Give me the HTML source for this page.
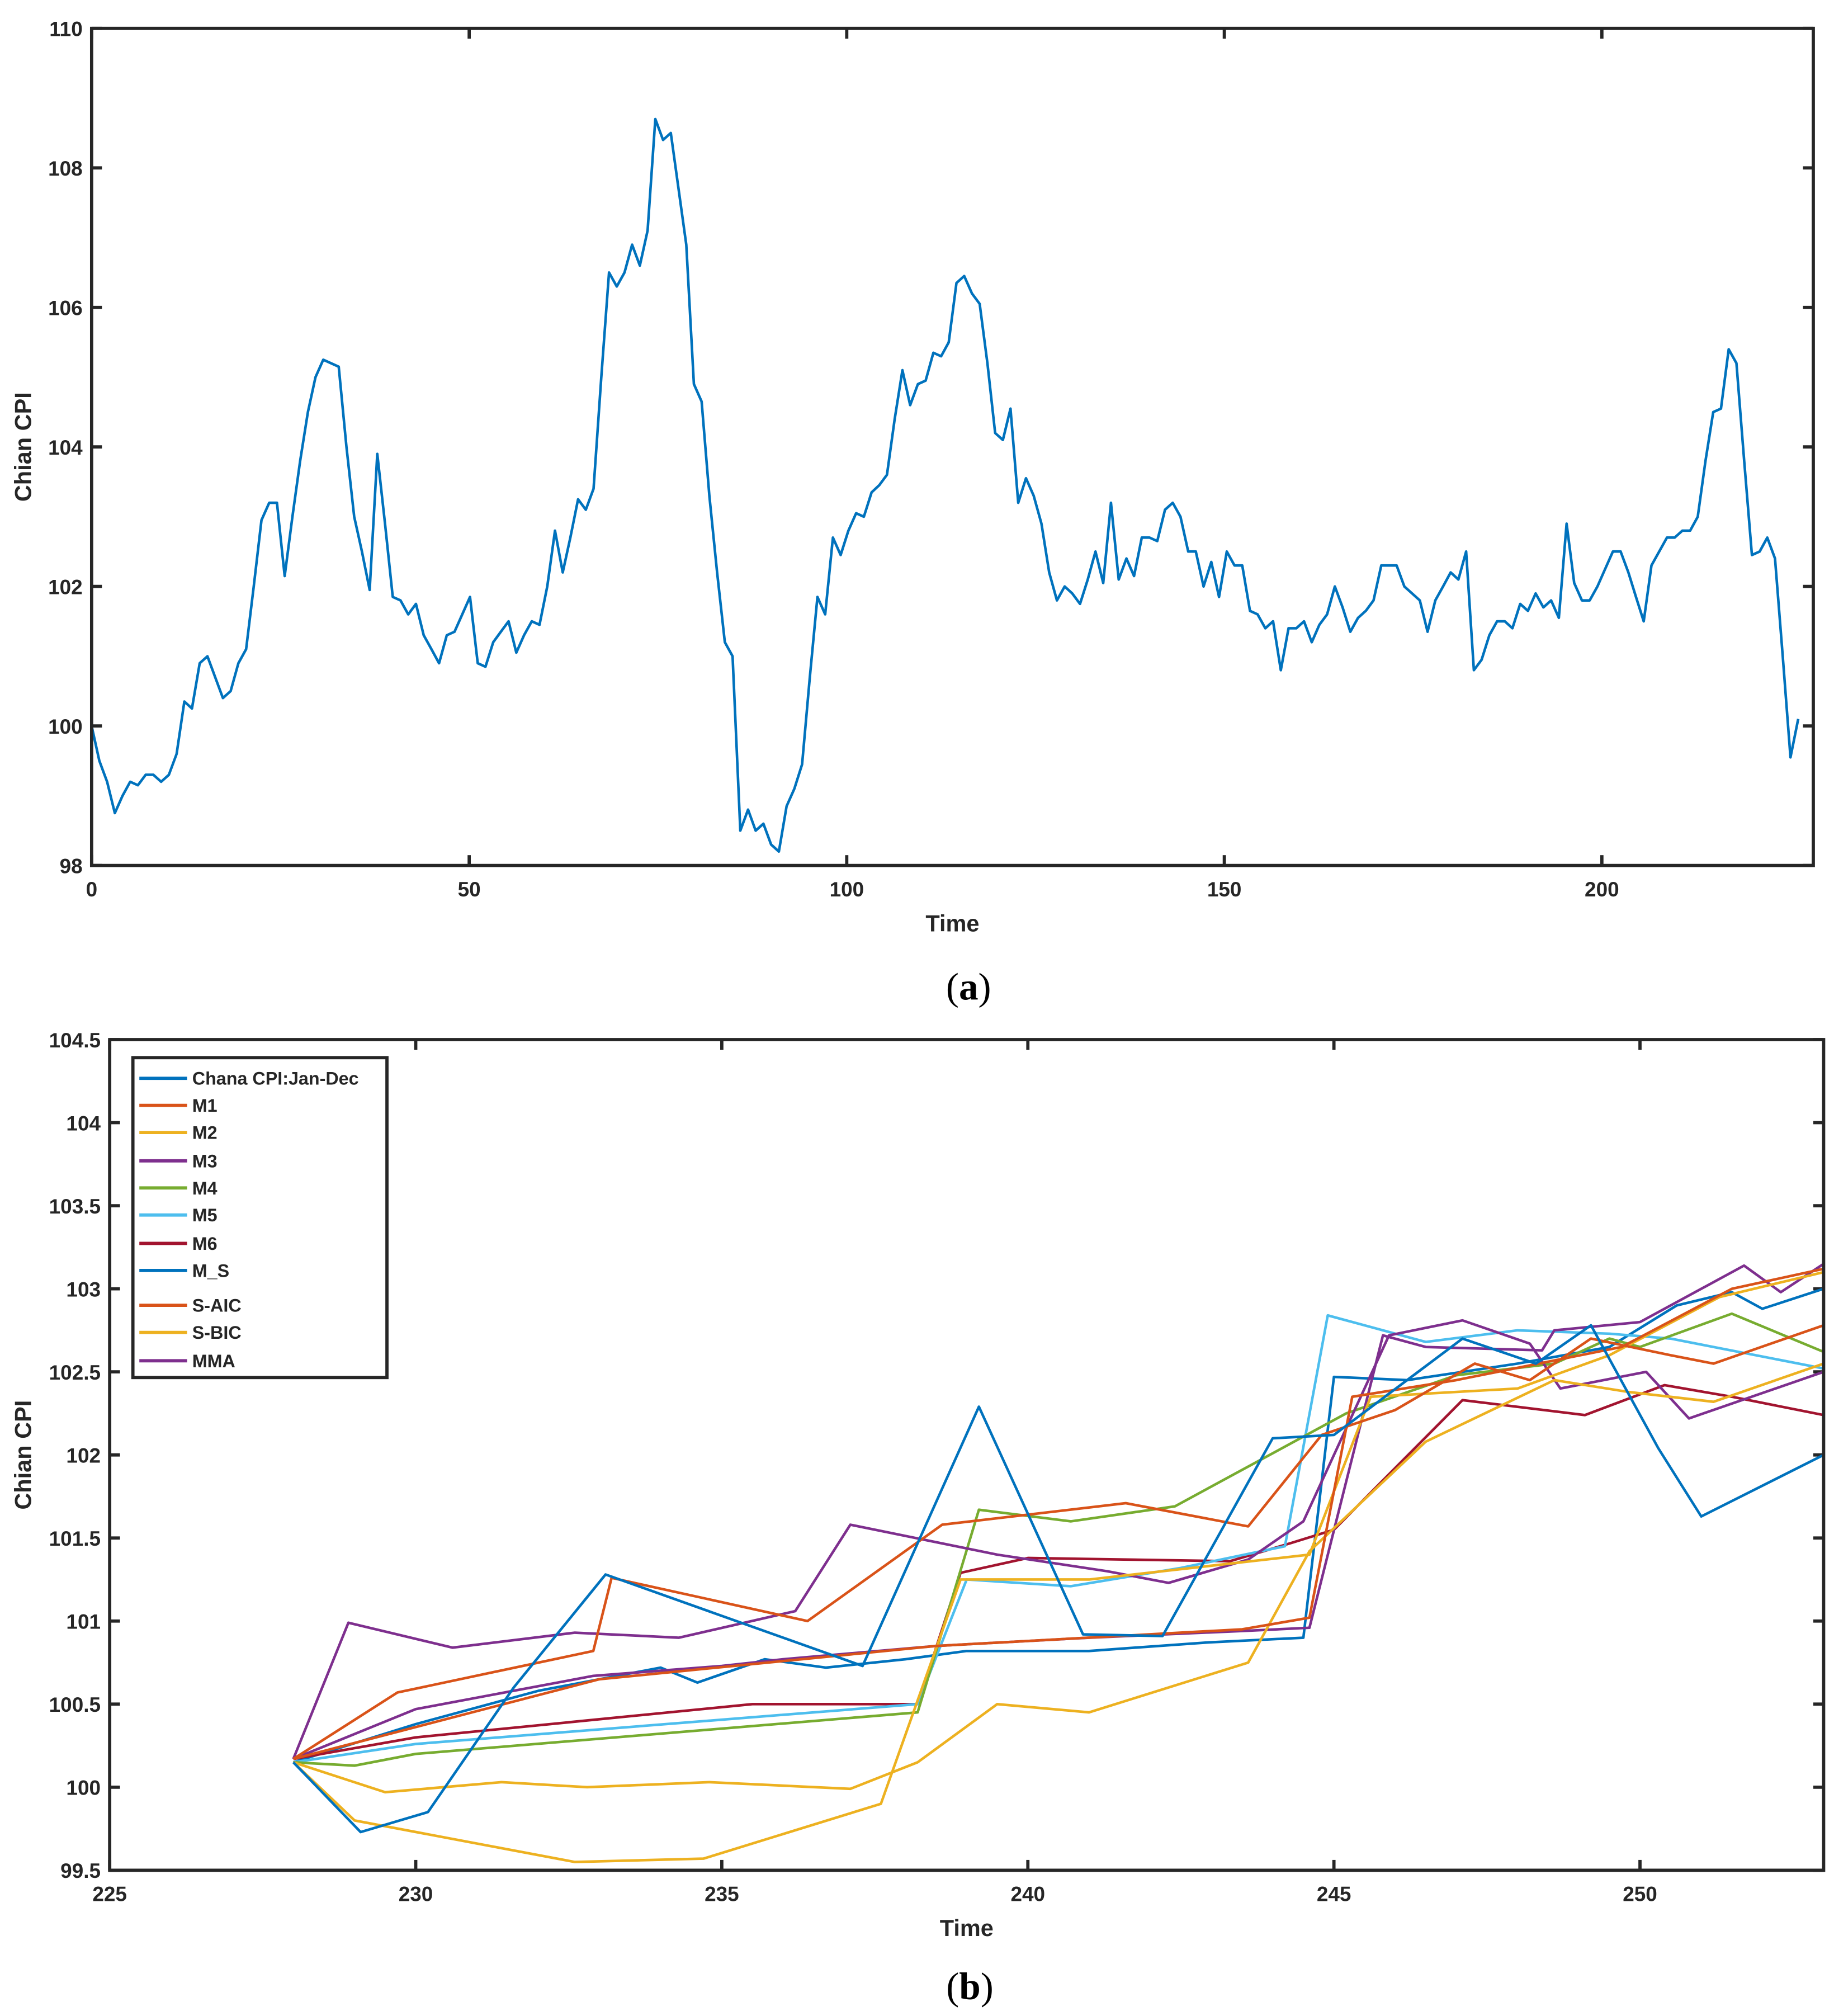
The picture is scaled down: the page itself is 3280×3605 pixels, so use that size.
<!DOCTYPE html>
<html><head><meta charset="utf-8"><style>
html,body{margin:0;padding:0;background:#fff}
svg{display:block}
text{font-family:"Liberation Sans",Arial,sans-serif;fill:#262626}
</style></head><body>
<svg id="fig" width="3280" height="3605" viewBox="0 0 1422 1563" xmlns="http://www.w3.org/2000/svg">
<g id="pa"></g>
<g id="pb"></g>
<text x="751" y="775" text-anchor="middle" style="font-family:'Liberation Serif',serif;font-size:30px;fill:#000">(<tspan font-weight="bold">a</tspan>)</text>
<text x="752" y="1550" text-anchor="middle" style="font-family:'Liberation Serif',serif;font-size:30px;fill:#000">(<tspan font-weight="bold">b</tspan>)</text>
</svg>
<script>
const cpiA=[100,99.5,99.2,98.75,99,99.2,99.15,99.3,99.3,99.2,99.3,99.6,100.35,100.25,100.9,101,100.7,100.4,100.5,100.9,101.1,102,102.95,103.2,103.2,102.15,103,103.8,104.5,105,105.25,105.2,105.15,104,103,102.5,101.95,103.9,102.9,101.85,101.8,101.6,101.75,101.3,101.1,100.9,101.3,101.35,101.6,101.85,100.9,100.85,101.2,101.35,101.5,101.05,101.3,101.5,101.45,102,102.8,102.2,102.7,103.25,103.1,103.4,105,106.5,106.3,106.5,106.9,106.6,107.1,108.7,108.4,108.5,107.7,106.9,104.9,104.65,103.3,102.2,101.2,101,98.5,98.8,98.5,98.6,98.3,98.2,98.85,99.1,99.45,100.7,101.85,101.6,102.7,102.45,102.8,103.05,103,103.35,103.45,103.6,104.4,105.1,104.6,104.9,104.95,105.35,105.3,105.5,106.35,106.45,106.2,106.05,105.2,104.2,104.1,104.55,103.2,103.55,103.3,102.9,102.2,101.8,102,101.9,101.75,102.1,102.5,102.05,103.2,102.1,102.4,102.15,102.7,102.7,102.65,103.1,103.2,103,102.5,102.5,102,102.35,101.85,102.5,102.3,102.3,101.65,101.6,101.4,101.5,100.8,101.4,101.4,101.5,101.2,101.45,101.6,102,101.7,101.35,101.55,101.65,101.8,102.3,102.3,102.3,102,101.9,101.8,101.35,101.8,102,102.2,102.1,102.5,100.8,100.95,101.3,101.5,101.5,101.4,101.75,101.65,101.9,101.7,101.8,101.55,102.9,102.05,101.8,101.8,102,102.25,102.5,102.5,102.2,101.85,101.5,102.3,102.5,102.7,102.7,102.8,102.8,103,103.8,104.5,104.55,105.4,105.2,103.8,102.45,102.5,102.7,102.4,101,99.55,100.1];
const timeEndA=226;
const xTicksA=[0,50,100,150,200];
const yTicksA=[98,100,102,104,106,108,110];

const seriesNames=["Chana CPI:Jan-Dec","M1","M2","M3","M4","M5","M6","M_S","S-AIC","S-BIC","MMA"];
const chanaT=[228,229.1,230.2,231.6,233.1,237.3,239.2,240.9,242.2,244,245,247.1,248.3,249.2,250.3,251,253];
const chanaV=[100.15,99.73,99.85,100.6,101.28,100.73,102.29,100.92,100.91,102.1,102.12,102.7,102.55,102.78,102.04,101.63,102.0];
const m1T=[228,229.7,232.9,233.2,236.4,238.6,241.6,243.6,244.8,246,247.3,248.2,249.2,250.5,251.2,253];
const m1V=[100.17,100.57,100.82,101.26,101.0,101.58,101.71,101.57,102.12,102.27,102.55,102.45,102.7,102.6,102.55,102.78];
const m2T=[228,229.5,231.4,232.8,234.8,237.1,238.2,239.5,241,243.6,244.6,246.5,248.6,249.8,251.2,253];
const m2V=[100.15,99.97,100.03,100.0,100.03,99.99,100.15,100.5,100.45,100.75,101.42,102.08,102.45,102.38,102.32,102.55];
const m3T=[228,228.9,230.6,232.6,234.3,236.2,237.1,239.5,241.3,242.3,243.6,244.5,245.9,247.1,248.2,248.7,250.1,250.8,253];
const m3V=[100.17,100.99,100.84,100.93,100.9,101.06,101.58,101.4,101.3,101.23,101.37,101.6,102.72,102.81,102.67,102.4,102.5,102.22,102.5];
const m4T=[228,229,230,238.2,239.2,240.7,242.4,245.2,247,248.6,249.5,250,251.5,253];
const m4V=[100.15,100.13,100.2,100.45,101.67,101.6,101.69,102.25,102.48,102.55,102.7,102.65,102.85,102.62];
const m5T=[228,230,238.2,239,240.7,242.5,244.2,244.9,246.5,248,249.5,250.5,253];
const m5V=[100.15,100.26,100.5,101.25,101.21,101.32,101.45,102.84,102.68,102.75,102.73,102.7,102.52];
const m6T=[228,230,235.5,238.2,238.9,240,243.3,244.3,245,247.1,249.1,250.4,251.5,253];
const m6V=[100.17,100.3,100.5,100.5,101.29,101.38,101.36,101.47,101.55,102.33,102.24,102.42,102.35,102.24];
const msT=[228,230,232,234,234.6,235.7,236.7,238,239,241,242.9,244.5,245,246.2,248,249.5,250.6,251.5,252,253];
const msV=[100.15,100.38,100.58,100.72,100.63,100.77,100.72,100.77,100.82,100.82,100.87,100.9,102.47,102.45,102.55,102.65,102.9,102.98,102.88,103.0];
const saicT=[228,233,238.5,243.5,244.6,245.3,247,249.7,251.5,253];
const saicV=[100.17,100.65,100.85,100.95,101.02,102.35,102.45,102.65,103.0,103.12];
const sbicT=[228,229,232.6,234.7,237.6,238.9,241,244.6,245.6,248,249.5,251.3,253];
const sbicV=[100.15,99.8,99.55,99.57,99.9,101.25,101.25,101.4,102.35,102.4,102.6,102.95,103.1];
const mmaT=[228,230,232.9,235,236,238.5,241,243.5,244.6,245.8,246.5,248.4,248.6,250,251.7,252.3,253];
const mmaV=[100.17,100.47,100.67,100.73,100.77,100.85,100.9,100.94,100.96,102.72,102.65,102.63,102.75,102.8,103.14,102.98,103.15];
const xTicksB=[225,230,235,240,245,250];
const yTicksB=[99.5,100,100.5,101,101.5,102,102.5,103,103.5,104,104.5];

const NS='http://www.w3.org/2000/svg';
function mk(tag,attrs,parent){const e=document.createElementNS(NS,tag);for(const k in attrs)e.setAttribute(k,attrs[k]);parent.appendChild(e);return e;}

function axes(g,box,xd,yd,xt,yt,fmtY){
  const sx=v=>box.x0+(v-xd[0])/(xd[1]-xd[0])*(box.x1-box.x0);
  const sy=v=>box.y1-(v-yd[0])/(yd[1]-yd[0])*(box.y1-box.y0);
  xt.forEach(t=>{
    const x=sx(t);
    const l1=mk('line',{x1:x,x2:x,y1:box.y1,y2:box.y1-8,stroke:'#262626','stroke-width':2.5},g);
    
    
    mk('line',{x1:x,x2:x,y1:box.y0,y2:box.y0+8,stroke:'#262626','stroke-width':2.5},g);
    const tx=mk('text',{x:x,y:box.y1+24,'text-anchor':'middle','font-size':16,'font-weight':'bold'},g);
    
    
    tx.textContent=t;
  });
  yt.forEach(t=>{
    const y=sy(t);
    const l1=mk('line',{x1:box.x0,x2:box.x0+8,y1:y,y2:y,stroke:'#262626','stroke-width':2.5},g);
    
    
    mk('line',{x1:box.x1,x2:box.x1-8,y1:y,y2:y,stroke:'#262626','stroke-width':2.5},g);
    const tx=mk('text',{x:box.x0-7,y:y+6,'text-anchor':'end','font-size':16,'font-weight':'bold'},g);
    
    
    tx.textContent=fmtY(t);
  });
  return {sx,sy};
}
function frame(g,box){
  const r=mk('rect',{x:box.x0,y:box.y0,width:box.x1-box.x0,height:box.y1-box.y0,fill:'none',stroke:'#262626','stroke-width':2.5},g);
  
  
}
function labels(g,box,cx,xlY){
  const xl=mk('text',{x:(box.x0+box.x1)/2,y:xlY,'text-anchor':'middle','font-size':18,'font-weight':'bold'},g);
  
  
  xl.textContent='Time';
  const cy=(box.y0+box.y1)/2;
  const yl=mk('text',{x:cx,y:cy,'text-anchor':'middle','font-size':18,'font-weight':'bold',transform:`rotate(-90 ${cx} ${cy})`},g);
  
  
  yl.textContent='Chian CPI';
}

// Panel A
(function(){
  const g=document.getElementById('pa');
  const box={x0:71,x1:1406,y0:22,y1:671};
  const {sx,sy}=axes(g,box,[0,228],[98,110],xTicksA,yTicksA,v=>v);
  const n=cpiA.length;
  const pts=cpiA.map((v,i)=>sx(i*timeEndA/(n-1)).toFixed(1)+','+sy(v).toFixed(1)).join(' ');
  const pl=mk('polyline',{points:pts,fill:'none',stroke:'#0072BD','stroke-width':2,'stroke-linejoin':'round'},g);
  
  
  frame(g,box);
  labels(g,box,24,722);
})();

// Panel B
(function(){
  const g=document.getElementById('pb');
  const box={x0:85,x1:1414,y0:806,y1:1450};
  const {sx,sy}=axes(g,box,[225,253],[99.5,104.5],xTicksB,yTicksB,v=>String(v));
  const series=[
    [msT,msV,'#0072BD','line-m-s'],
    [m6T,m6V,'#A2142F','line-m6'],
    [m5T,m5V,'#4DBEEE','line-m5'],
    [m4T,m4V,'#77AC30','line-m4'],
    [mmaT,mmaV,'#7E2F8E','line-mma'],
    [m3T,m3V,'#7E2F8E','line-m3'],
    [sbicT,sbicV,'#EDB120','line-s-bic'],
    [m2T,m2V,'#EDB120','line-m2'],
    [saicT,saicV,'#D95319','line-s-aic'],
    [m1T,m1V,'#D95319','line-m1'],
    [chanaT,chanaV,'#0072BD','line-chana-cpi']
  ];
  series.forEach(s=>{
    const pts=s[0].map((t,i)=>sx(t).toFixed(1)+','+sy(s[1][i]).toFixed(1)).join(' ');
    const pl=mk('polyline',{points:pts,fill:'none',stroke:s[2],'stroke-width':2,'stroke-linejoin':'round'},g);
    
    
  });
  frame(g,box);
  labels(g,box,24,1501);
  const lg=mk('g',{},g);
  
  
  mk('rect',{x:103,y:820,width:197,height:248,fill:'#fff',stroke:'#262626','stroke-width':2.5},lg);
  const colors=['#0072BD','#D95319','#EDB120','#7E2F8E','#77AC30','#4DBEEE','#A2142F','#0072BD','#D95319','#EDB120','#7E2F8E'];
  const ys=[836,857,878,900,921,942,964,985,1012,1033,1055];
  seriesNames.forEach((nm,i)=>{
    const e=mk('g',{},lg);
    
    
    mk('line',{x1:108,x2:145,y1:ys[i],y2:ys[i],stroke:colors[i],'stroke-width':2.5},e);
    const t=mk('text',{x:149,y:ys[i]+5,'font-size':14,'font-weight':'bold'},e);
    t.textContent=nm;
  });
})();
</script>
</body></html>
